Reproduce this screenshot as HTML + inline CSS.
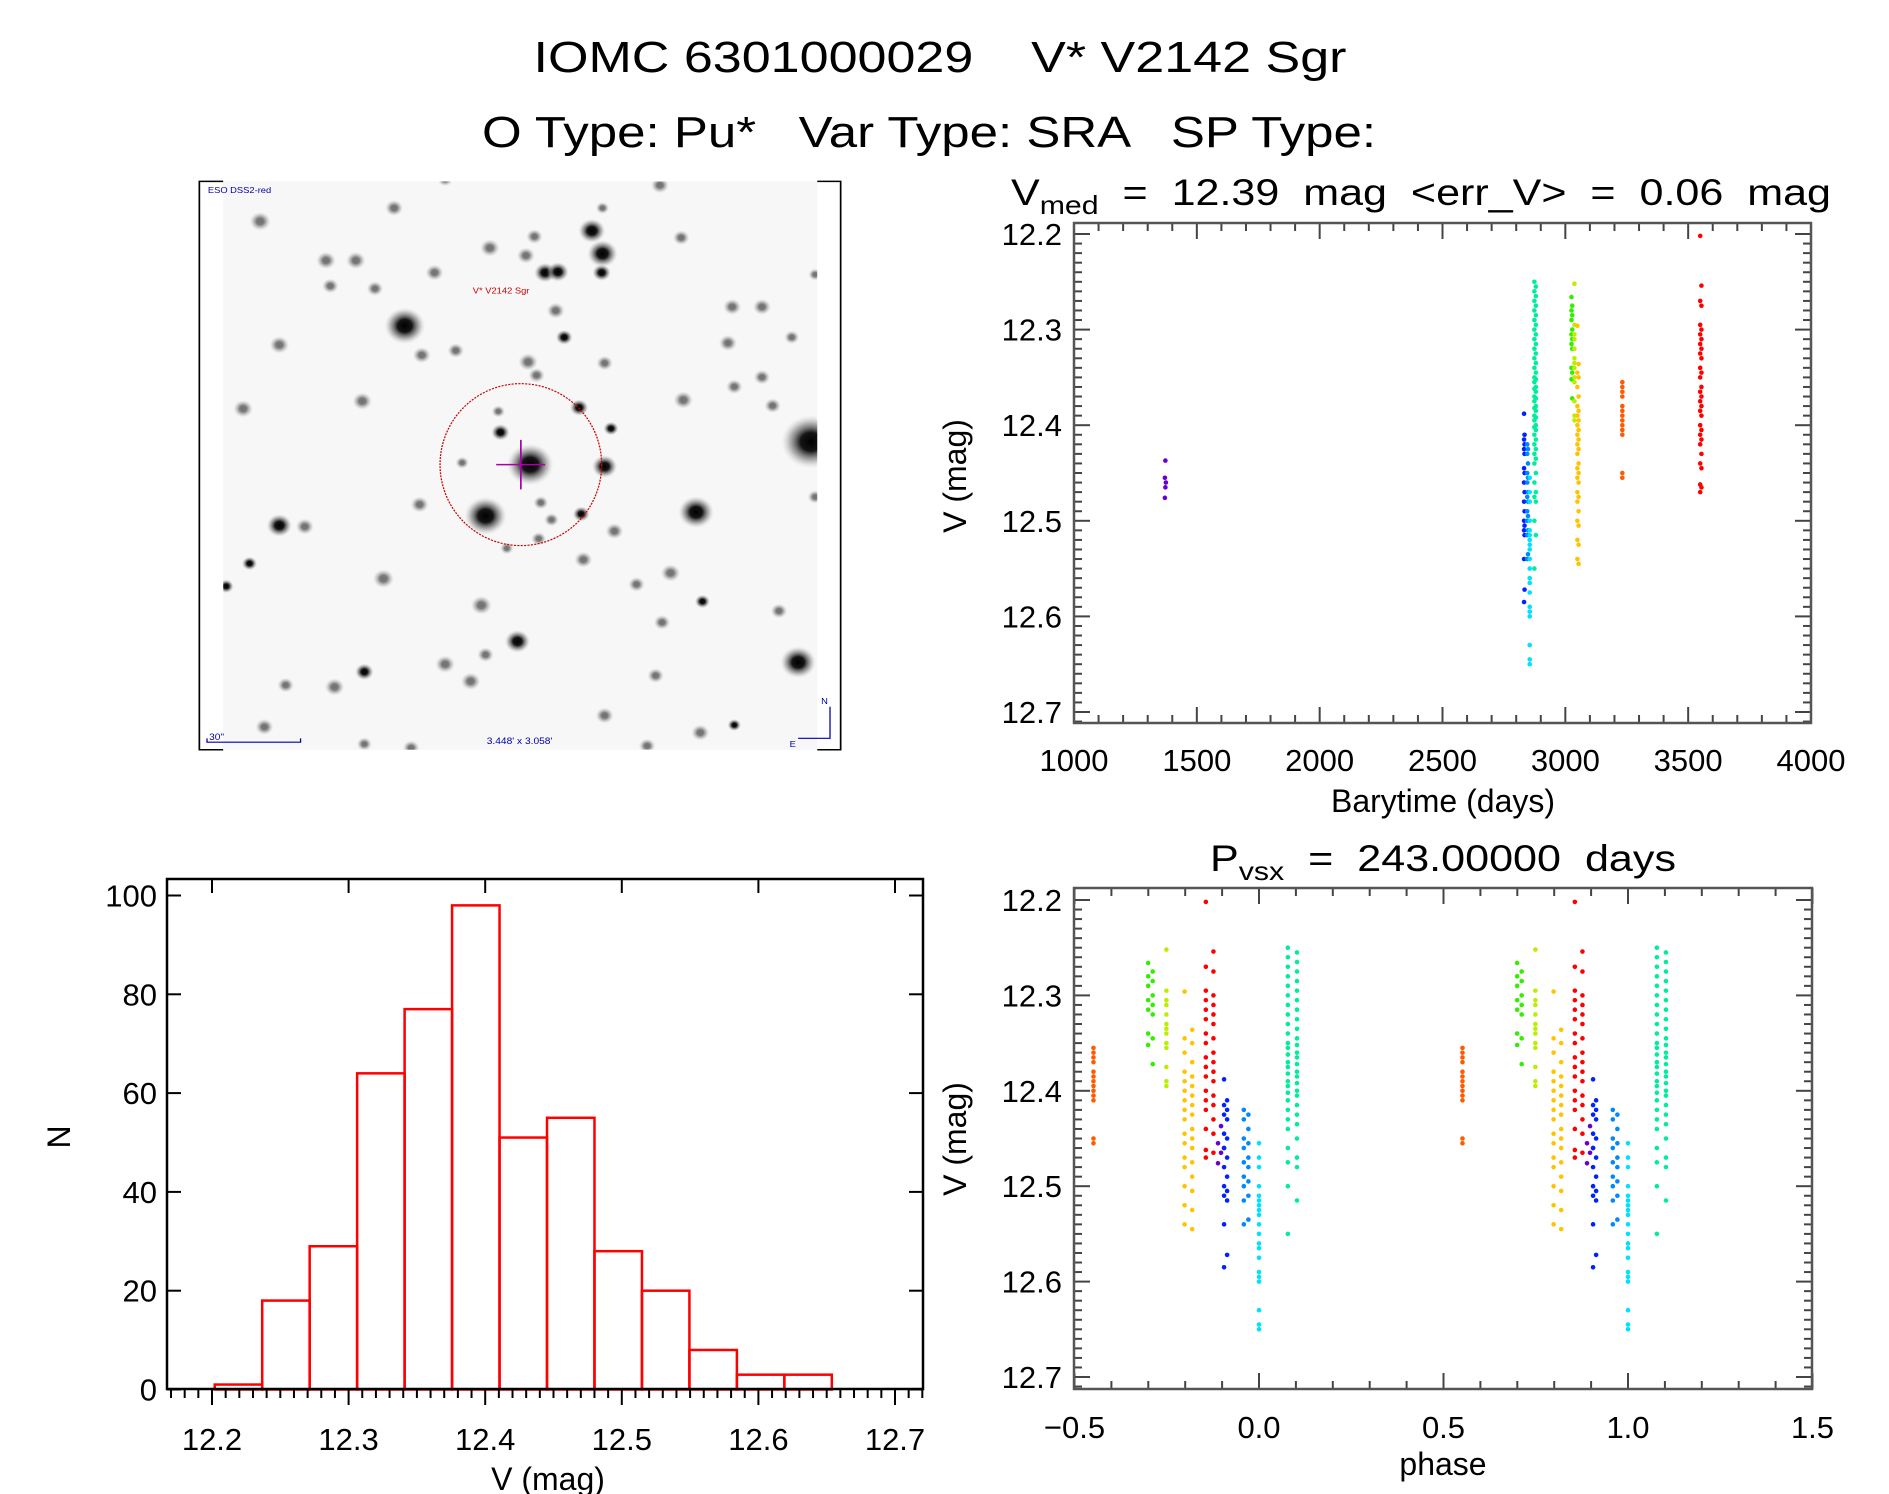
<!DOCTYPE html>
<html><head><meta charset="utf-8">
<style>
html,body{margin:0;padding:0;background:#fff;}
svg{display:block;font-family:"Liberation Sans",sans-serif;}
text{white-space:pre;}
</style></head>
<body>
<svg id="fig" width="1889" height="1494" viewBox="0 0 1889 1494" xmlns="http://www.w3.org/2000/svg">
<text x="940" y="72" font-size="44" text-anchor="middle" textLength="813" lengthAdjust="spacingAndGlyphs" xml:space="preserve">IOMC 6301000029    V* V2142 Sgr</text>
<text x="929" y="147" font-size="44" text-anchor="middle" textLength="894" lengthAdjust="spacingAndGlyphs" xml:space="preserve">O Type: Pu*   Var Type: SRA   SP Type:</text>

<svg x="190" y="170" width="660" height="590" viewBox="0 0 1552 1552" preserveAspectRatio="none">
<defs><radialGradient id="st"><stop offset="0" stop-color="#000"/><stop offset="0.35" stop-color="#151515"/><stop offset="0.7" stop-color="#777" stop-opacity="0.55"/><stop offset="1" stop-color="#ccc" stop-opacity="0"/></radialGradient>
<clipPath id="ic"><rect x="78" y="30" width="1397" height="1495"/></clipPath></defs>
<rect x="78" y="30" width="1397" height="1495" fill="#f7f7f7"/>
<g id="stars" clip-path="url(#ic)"></g>
<path d="M78 30 H22 V1525 H78 M1475 30 H1530 V1525 H1475" fill="none" stroke="#000" stroke-width="4"/>
<ellipse cx="778" cy="775" rx="190" ry="213" fill="none" stroke="#c00" stroke-width="3" stroke-dasharray="5,3"/>
<path d="M720 775 H835 M778 710 V840" stroke="#a0a" stroke-width="4"/>
<text x="665" y="325" font-size="22" fill="#c00">V* V2142 Sgr</text>
<text x="42" y="60" font-size="22" fill="#00a">ESO DSS2-red</text>
<path d="M40 1495 V1505 H260 V1495" fill="none" stroke="#00a" stroke-width="3"/>
<text x="45" y="1500" font-size="24" fill="#00a">30"</text>
<text x="775" y="1510" font-size="24" fill="#00a" text-anchor="middle">3.448' x 3.058'</text>
<path d="M1505 1412 V1495 H1430" fill="none" stroke="#00a" stroke-width="3"/>
<text x="1484" y="1405" font-size="22" fill="#00a">N</text>
<text x="1410" y="1518" font-size="22" fill="#00a">E</text>
</svg>

<g id="tr"></g>
<g id="ph"></g>
<g id="hi"></g>
</svg>
<script>
// ---- light-curve data (Barytime days, V mag) ----
const purpleT=[1372,1370,1374];
const purpleM=[12.437,12.455,12.46,12.465,12.476];
const blueT=[2832,2834];
const blueM=[12.388,12.41,12.415,12.42,12.425,12.43,12.445,12.45,12.46,12.47,12.48,12.49,12.50,12.505,12.51,12.515,12.54,12.572,12.585];
const azureT=[2845,2848];
const azureM=[12.42,12.425,12.43,12.44,12.45,12.455,12.46,12.47,12.475,12.48,12.49,12.495,12.50,12.51,12.515,12.535,12.54];
const cyanT=[2855];
const cyanM=[12.455,12.47,12.48,12.50,12.51,12.515,12.52,12.525,12.53,12.54,12.55,12.56,12.565,12.575,12.59,12.595,12.60,12.63,12.645,12.65];
const tealT=[2874,2880];
const tealM=[12.25,12.255,12.26,12.265,12.27,12.275,12.28,12.285,12.29,12.295,12.30,12.305,12.31,12.315,12.32,12.325,12.33,12.335,12.34,12.345,12.35,12.352,12.355,12.36,12.362,12.365,12.37,12.372,12.375,12.38,12.382,12.385,12.39,12.392,12.395,12.40,12.402,12.405,12.41,12.415,12.42,12.425,12.43,12.435,12.44,12.45,12.46,12.47,12.475,12.48,12.50,12.515,12.55];
const greenT=[3025,3028];
const greenM=[12.266,12.275,12.28,12.285,12.29,12.30,12.305,12.31,12.315,12.32,12.34,12.345,12.352,12.372];
const ygT=[3037];
const ygM=[12.252,12.295,12.305,12.31,12.32,12.33,12.335,12.34,12.35,12.355,12.375,12.39,12.395];
const yellowT=[3049,3054];
const yellowM=[12.296,12.336,12.345,12.35,12.36,12.37,12.38,12.385,12.39,12.395,12.40,12.405,12.41,12.415,12.42,12.425,12.43,12.44,12.445,12.45,12.455,12.46,12.47,12.475,12.48,12.49,12.50,12.505,12.52,12.525,12.54,12.545];
const orangeT=[3232];
const orangeM=[12.355,12.36,12.365,12.37,12.38,12.385,12.39,12.395,12.40,12.405,12.41,12.45,12.455];
const redT=[3549,3554];
const redM=[12.202,12.254,12.27,12.275,12.295,12.30,12.305,12.31,12.315,12.32,12.325,12.33,12.34,12.345,12.35,12.36,12.365,12.37,12.375,12.38,12.385,12.39,12.40,12.405,12.41,12.415,12.42,12.43,12.44,12.445,12.462,12.465,12.47];
const period=243.0;
const epoch=2855;
// ---- histogram data ----
const histStart=12.202;
const histWidth=0.03475;
const histCounts=[1,18,29,64,77,98,51,55,28,20,8,3,3];
// ---- tick labels ----
const trXTicks=[1000,1500,2000,2500,3000,3500,4000];
const magTicks=[12.2,12.3,12.4,12.5,12.6,12.7];
const phXTicks=[-0.5,0.0,0.5,1.0,1.5];
const phXLabels=["\u22120.5","0.0","0.5","1.0","1.5"];
const hiXTicks=[12.2,12.3,12.4,12.5,12.6,12.7];
const hiYTicks=[0,20,40,60,80,100];

const groups=[
 {t:purpleT,m:purpleM,c:"#6a00d0",n:"purple"},
 {t:blueT,m:blueM,c:"#0022ff",n:"blue"},
 {t:azureT,m:azureM,c:"#0088ff",n:"azure"},
 {t:cyanT,m:cyanM,c:"#00e0ff",n:"cyan"},
 {t:tealT,m:tealM,c:"#00ee99",n:"teal"},
 {t:greenT,m:greenM,c:"#33ee00",n:"green"},
 {t:ygT,m:ygM,c:"#bbee00",n:"yellowgreen"},
 {t:yellowT,m:yellowM,c:"#ffc400",n:"yellow"},
 {t:orangeT,m:orangeM,c:"#ff5a00",n:"orange"},
 {t:redT,m:redM,c:"#ff0000",n:"red"}];

const NS="http://www.w3.org/2000/svg";
function mk(tag,at,par){const e=document.createElementNS(NS,tag);for(const k in at)e.setAttribute(k,at[k]);par.appendChild(e);return e;}
function txt(s,at,par){const e=mk("text",at,par);e.textContent=s;return e;}

// stars
const starList=[[505,410,48],[695,910,50],[800,775,55],[1190,900,42],[1460,715,70],[1430,1295,42],[945,160,32],[970,220,36],[835,270,26],[865,268,26],[968,270,22],[210,935,30],[975,780,30],[730,690,22],[770,1240,30],[880,440,20],[915,625,22],[920,905,20],[990,680,18],[410,1320,22],[140,1035,18],[85,1095,18],[1205,1135,18],[1280,1460,16],
[165,135,14],[480,100,12],[320,238,13],[390,238,13],[705,205,13],[790,225,12],[810,175,11],[575,270,12],[330,305,11],[435,312,11],[545,487,12],[625,475,11],[210,460,13],[795,505,13],[815,540,11],[975,508,11],[860,370,12],[1155,178,11],[1275,360,12],[1345,360,12],[1265,455,12],[1415,440,10],[1345,545,11],[1280,570,11],[1160,605,13],[1370,620,11],[125,628,13],[405,608,13],[540,880,12],[998,950,12],[270,938,12],[455,1075,14],[685,1145,14],[925,1025,12],[1130,1060,13],[1050,1090,11],[1110,1190,11],[1385,1160,11],[600,1300,13],[695,1275,11],[660,1345,13],[340,1360,13],[225,1355,11],[175,1465,12],[975,1435,12],[1200,1480,12],[1095,1330,11],[1105,40,12],[600,25,10],[970,100,9],[520,1520,11],[1075,1515,11],[410,1510,10],[725,635,9],[640,770,9],[825,875,10],[850,920,10],[820,970,10],[745,995,9],[1470,860,10],[1470,275,9]];
const sg=document.getElementById("stars");
starList.forEach(s=>{const big=s[2]>=16;
 const c=mk("circle",{cx:s[0],cy:s[1],r:big?s[2]:s[2]*1.8,fill:"url(#st)",opacity:big?1:0.55},sg);

});

function frame(par,x0,y0,x1,y1,col,w){
 mk("rect",{x:x0,y:y0,width:x1-x0,height:y1-y0,fill:"none",stroke:col,"stroke-width":w},par);
}
function tickLine(par,x1,y1,x2,y2,col){mk("line",{x1,y1,x2,y2,stroke:col,"stroke-width":2},par);}

// ---------- top-right light curve ----------
const tr=document.getElementById("tr");
const TX0=1074,TX1=1811,TY0=223,TY1=723;
const tx=t=>TX0+(t-1000)/3000*(TX1-TX0);
const ty=m=>234+(m-12.2)/0.5*478;
function magAxis(par,X0,X1,Y0,Y1,yf){
 for(let k=0;k<=52;k++){const m=12.2+k*0.01;const y=yf(m);if(y<Y0||y>Y1)continue;
  const major=k%10===0, L=major?16:8;
  tickLine(par,X0,y,X0+L,y,"#444");tickLine(par,X1,y,X1-L,y,"#444");}
 magTicks.forEach(v=>{const t=txt(v.toFixed(1),{x:X0-12,y:yf(v)+11,"font-size":31,"text-anchor":"end"},par);
  
  });
}
magAxis(tr,TX0,TX1,TY0,TY1,ty);
for(let t=1000;t<=4000;t+=100){const x=tx(t);const L=(t%500===0)?16:8;
 tickLine(tr,x,TY1,x,TY1-L,"#444");tickLine(tr,x,TY0,x,TY0+L,"#444");}
trXTicks.forEach(v=>{const t=txt(String(v),{x:tx(v),y:771,"font-size":31,"text-anchor":"middle"},tr);
 
 });
frame(tr,TX0,TY0,TX1,TY1,"#555",2.5);
{const t=txt("Barytime (days)",{x:1443,y:812,"font-size":32,"text-anchor":"middle"},tr);
 }
{const t=txt("V (mag)",{x:0,y:0,"font-size":32,"text-anchor":"middle",transform:"translate(966,476) rotate(-90)"},tr);
 }
{const t=mk("text",{x:1011,y:205,"font-size":37},tr);
 
 t.innerHTML='V<tspan dy="9" font-size="26">med</tspan><tspan dy="-9">  =  12.39  mag  &lt;err_V&gt;  =  0.06  mag</tspan>';
 t.setAttribute("textLength","820");t.setAttribute("lengthAdjust","spacingAndGlyphs");}
groups.forEach(g=>{g.m.forEach((m,i)=>{const t=g.t[i%g.t.length];
 const c=mk("circle",{cx:tx(t),cy:ty(m),r:2.3,fill:g.c},tr);
 
 });});

// ---------- phase plot ----------
const ph=document.getElementById("ph");
const PX0=1074,PX1=1812,PY0=888,PY1=1389;
const px=p=>1074.5+(p+0.5)/2*738;
const py=m=>900+(m-12.2)/0.5*477;
magAxis(ph,PX0,PX1,PY0,PY1,py);
for(let k=0;k<=20;k++){const p=-0.5+k*0.1;const x=px(p);const L=(k%5===0)?16:8;
 tickLine(ph,x,PY1,x,PY1-L,"#444");tickLine(ph,x,PY0,x,PY0+L,"#444");}
phXTicks.forEach((v,i)=>{const t=txt(phXLabels[i],{x:px(v),y:1438,"font-size":31,"text-anchor":"middle"},ph);
 
 });
frame(ph,PX0,PY0,PX1,PY1,"#555",2.5);
{const t=txt("phase",{x:1443,y:1475,"font-size":32,"text-anchor":"middle"},ph);
 }
{const t=txt("V (mag)",{x:0,y:0,"font-size":32,"text-anchor":"middle",transform:"translate(966,1139) rotate(-90)"},ph);
 }
{const t=mk("text",{x:1210,y:871,"font-size":37},ph);
 
 t.innerHTML='P<tspan dy="9" font-size="26">vsx</tspan><tspan dy="-9">  =  243.00000  days</tspan>';
 t.setAttribute("textLength","466");t.setAttribute("lengthAdjust","spacingAndGlyphs");}
groups.forEach(g=>{g.m.forEach((m,i)=>{const t=g.t[i%g.t.length];
 let p=((t-epoch)/period)%1; if(p<-0.5)p+=1; if(p>=0.5)p-=1;
 [p,p+1].forEach(pp=>{const c=mk("circle",{cx:px(pp),cy:py(m),r:2.3,fill:g.c},ph);
  
  });});});

// ---------- histogram ----------
const hi=document.getElementById("hi");
const HX0=167,HX1=923,HY0=879,HY1=1389;
const hx=v=>212+(v-12.2)/0.5*683;
const hy=n=>1389.5-n/100*494;
histCounts.forEach((n,i)=>{const a=histStart+i*histWidth,b=a+histWidth;
 const r=mk("rect",{x:hx(a),y:hy(n),width:hx(b)-hx(a),height:hy(0)-hy(n),fill:"none",stroke:"#f00","stroke-width":2.5},hi);
 
 });
frame(hi,HX0,HY0,HX1,HY1,"#000",2.5);
for(let k=-3;k<=53;k++){const v=12.2+k*0.01;const x=hx(v);if(x<HX0||x>HX1)continue;
 const major=(k%10===0);
 tickLine(hi,x,HY1,x,HY1+(major?16:9),"#000");
 if(major) tickLine(hi,x,HY0,x,HY0+14,"#000");}
hiYTicks.forEach(n=>{const y=hy(n);tickLine(hi,HX0,y,HX0+14,y,"#000");tickLine(hi,HX1,y,HX1-14,y,"#000");
 const t=txt(String(n),{x:157,y:y+11,"font-size":31,"text-anchor":"end"},hi);
 });
hiXTicks.forEach(v=>{const t=txt(v.toFixed(1),{x:hx(v),y:1450,"font-size":31,"text-anchor":"middle"},hi);
 });
{const t=txt("V (mag)",{x:548,y:1490,"font-size":32,"text-anchor":"middle"},hi);
 }
{const t=txt("N",{x:0,y:0,"font-size":32,"text-anchor":"middle",transform:"translate(70,1137) rotate(-90)"},hi);
 }
</script>
</body></html>
